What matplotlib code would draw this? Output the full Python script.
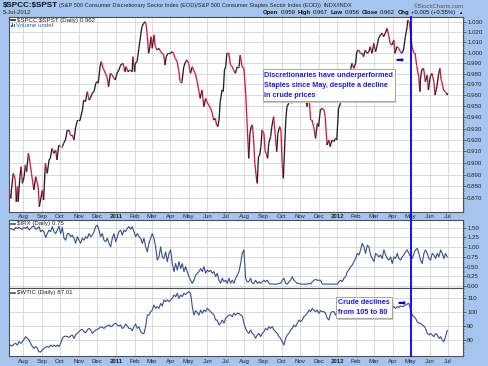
import numpy as np
import pandas as pd
import matplotlib
matplotlib.use("Agg")
import matplotlib.pyplot as plt
import matplotlib.dates as mdates
import matplotlib.transforms as mtransforms
from matplotlib.collections import LineCollection
from matplotlib.patches import Rectangle
from matplotlib.lines import Line2D
from matplotlib.ticker import FixedLocator, FormatStrFormatter, NullFormatter

plt.rcParams['font.family'] = ['Liberation Sans', 'DejaVu Sans']

# ---------------- data ----------------
series_origin = '2010-07-01'   # ratio_day counts days from this date
ratio_day = [
    8, 11, 12, 15, 18, 20, 22, 23, 26, 28,
    30, 33, 35, 37, 40, 42, 45, 49, 52, 56,
    58, 60, 63, 65, 68, 71, 74, 76, 79, 82,
    85, 87, 90, 93, 96, 98, 101, 104, 107, 109,
    112, 115, 118, 121, 125, 129, 131, 134, 137, 140,
    142, 145, 148, 151, 153, 155, 158, 160, 163, 167,
    170, 172, 175, 178, 181, 183, 186, 189, 192, 196,
    199, 201, 204, 207, 211, 212, 215, 216, 219, 222,
    225, 227, 230, 232, 234, 236, 238, 240, 242, 244,
    247, 249, 252, 255, 258, 260, 263, 265, 267, 270,
    274, 277, 279, 282, 285, 288, 290, 293, 296, 299,
    301, 304, 307, 310, 312, 315, 318, 321, 323, 326,
    329, 332, 334, 337, 340, 343, 345, 348, 350, 352,
    354, 356, 359, 361, 363, 365, 367, 370, 373, 376,
    378, 381, 384, 387, 389,
    392, 395, 398, 400, 403, 405, 407, 409, 411, 413,
    416, 417, 419, 421, 423, 425, 428, 430, 432, 434,
    436, 439, 441, 444, 446, 449, 451, 454, 456, 458,
    460, 462, 464, 466, 469, 472, 474, 477, 480, 483,
    485, 488, 491, 494, 496, 499, 502, 505, 507, 510,
    513, 516, 518, 521, 524, 527, 529, 532, 535, 537,
    540, 543, 546, 548, 551, 554, 557, 559, 562, 565,
    568, 570, 573, 576, 579, 581, 584, 587, 590, 592,
    595, 598, 601, 603, 606, 609, 612, 614, 617, 620,
    623, 625, 628, 631, 634, 636, 639, 642, 644, 647,
    650, 653, 655, 658, 661, 664, 665, 668, 670, 672,
    675, 677, 680, 683, 685, 686, 688, 691, 694, 697,
    699, 702, 705, 708, 710, 713, 716, 718, 720, 721,
    724, 727, 730, 731,
]
ratio_val = [
    0.8756, 0.8700, 0.8770, 0.8910, 0.8868, 0.8672, 0.8798, 0.8672, 0.8882, 0.8967,
    0.8826, 0.8882, 0.8982, 0.8925, 0.9082, 0.9025, 0.8910, 0.8770, 0.8882, 0.8798,
    0.8631, 0.8686, 0.8770, 0.8686, 0.8996, 0.8910, 0.9025, 0.9039, 0.9126, 0.9082,
    0.9111, 0.9025, 0.9155, 0.9140, 0.9140, 0.9170, 0.9199, 0.9287, 0.9287, 0.9243,
    0.9243, 0.9199, 0.9317, 0.9376, 0.9376, 0.9466, 0.9557, 0.9542, 0.9634, 0.9557,
    0.9572, 0.9618, 0.9634, 0.9711, 0.9726, 0.9711, 0.9866, 0.9914, 0.9851, 0.9804,
    0.9757, 0.9680, 0.9804, 0.9788, 0.9757, 0.9742, 0.9804, 0.9835, 0.9882, 0.9898,
    0.9819, 0.9866, 0.9819, 0.9835, 0.9819, 0.9961, 0.9819, 0.9898, 0.9914, 1.0041,
    1.0170, 1.0251, 1.0284, 1.0300, 1.0267, 1.0153, 0.9993, 1.0057, 1.0153, 1.0041,
    1.0170, 1.0057, 1.0025, 1.0041, 1.0009, 0.9993, 0.9977, 0.9882, 0.9961, 0.9993,
    0.9993, 1.0009, 0.9993, 0.9945, 0.9914, 0.9819, 0.9726, 0.9726, 0.9866, 0.9914,
    0.9930, 0.9898, 0.9804, 0.9866, 0.9835, 0.9804, 0.9726, 0.9634, 0.9572, 0.9649,
    0.9497, 0.9572, 0.9542, 0.9512, 0.9481, 0.9436, 0.9376, 0.9391, 0.9332, 0.9317,
    0.9376, 0.9542, 0.9649, 0.9634, 0.9835, 0.9866, 0.9993, 0.9993, 0.9882, 0.9866,
    0.9835, 0.9804, 0.9866, 0.9866, 0.9977,
    0.9866, 0.9851, 0.9618, 0.9376, 0.9039, 0.9258, 0.9317, 0.9332, 0.9199, 0.8996,
    0.8854, 0.8826, 0.9053, 0.9068, 0.9140, 0.9287, 0.9258, 0.9097, 0.9082, 0.9039,
    0.9170, 0.9228, 0.9317, 0.9406, 0.9287, 0.9097, 0.9258, 0.9317, 0.9287, 0.8996,
    0.8868, 0.9111, 0.9376, 0.9497, 0.9527, 0.9588, 0.9527, 0.9557, 0.9557, 0.9588,
    0.9588, 0.9557, 0.9588, 0.9634, 0.9588, 0.9497, 0.9618, 0.9376, 0.9376, 0.9317,
    0.9213, 0.9346, 0.9317, 0.9466, 0.9481, 0.9466, 0.9406, 0.9155, 0.9199, 0.9140,
    0.9199, 0.9184, 0.9213, 0.9199, 0.9481, 0.9527, 0.9557, 0.9572, 0.9634, 0.9680,
    0.9773, 0.9819, 0.9898, 0.9851, 0.9898, 1.0009, 1.0025, 0.9993, 0.9993, 0.9961,
    1.0025, 0.9993, 1.0009, 1.0057, 0.9993, 1.0089, 1.0009, 1.0057, 1.0137, 1.0170,
    1.0186, 1.0153, 1.0186, 1.0235, 1.0153, 1.0089, 1.0073, 1.0121, 0.9993, 1.0057,
    1.0041, 1.0009, 0.9993, 1.0025, 1.0153, 1.0251, 1.0316, 1.0284, 1.0153, 1.0057,
    0.9993, 0.9993, 0.9866, 0.9773, 0.9634, 0.9757, 0.9835, 0.9851, 0.9726, 0.9788,
    0.9649, 0.9773, 0.9804, 0.9726, 0.9603, 0.9680, 0.9804, 0.9851, 0.9742, 0.9726,
    0.9649, 0.9634, 0.9603, 0.9618,
]

lower_first, lower_last = '2010-07-09', '2012-06-30'
irx_val = [
    1.46, 1.48, 1.46, 1.44, 1.51, 1.48, 1.51, 1.48, 1.46, 1.51,
    1.48, 1.53, 1.44, 1.48, 1.53, 1.54, 1.46, 1.48, 1.53, 1.40,
    1.44, 1.40, 1.25, 1.35, 1.44, 1.40, 1.53, 1.40, 1.35, 1.44,
    1.54, 1.35, 1.51, 1.23, 1.18, 1.35, 1.35, 1.27, 1.31, 1.23,
    1.10, 1.27, 1.18, 1.10, 1.23, 1.18, 1.27, 1.23, 1.35, 1.27,
    1.31, 1.40, 1.53, 1.57, 1.44, 1.27, 1.35, 1.18, 1.14, 1.23,
    1.10, 1.01, 1.23, 1.35, 1.14, 1.27, 1.40, 1.44, 1.31, 1.44,
    1.40, 1.48, 1.53, 1.46, 1.53, 1.40, 1.27, 1.35, 1.27, 1.23,
    1.10, 1.23, 1.01, 0.88, 1.10, 1.23, 1.35, 1.23, 1.01, 0.67,
    0.75, 1.01, 0.75, 0.71, 0.88, 0.63, 0.84, 0.93, 0.58, 0.37,
    0.58, 0.41, 0.63, 0.45, 0.58, 0.37, 0.50, 0.37, 0.24, 0.15,
    0.07, 0.15, 0.28, 0.33, 0.37, 0.45, 0.37, 0.50, 0.33, 0.41,
    0.37, 0.41, 0.33, 0.37, 0.24, 0.33, 0.15, 0.07, 0.20, 0.11,
    0.15, 0.07, 0.20, 0.07, 0.15, 0.07, 0.20, 0.28, 0.37, 0.58,
    0.84, 0.93, 0.20, 0.11, 0.11, 0.20, 0.07, 0.07, 0.15, 0.07,
    0.11, 0.07, 0.11, 0.15, 0.11, 0.15, 0.07, 0.05, 0.05, 0.05,
    0.05, 0.05, 0.07, 0.07, 0.15, 0.20, 0.07, 0.05, 0.11, 0.15,
    0.24, 0.15, 0.11, 0.07, 0.07, 0.05, 0.05, 0.05, 0.05, 0.05,
    0.07, 0.05, 0.11, 0.15, 0.17, 0.15, 0.15, 0.15, 0.05, 0.05,
    0.05, 0.05, 0.05, 0.05, 0.05, 0.05, 0.05, 0.05, 0.11, 0.15,
    0.11, 0.20, 0.24, 0.37, 0.41, 0.50, 0.54, 0.63, 0.71, 0.84,
    0.80, 0.93, 1.10, 1.01, 0.84, 1.05, 1.01, 0.80, 0.71, 0.63,
    0.84, 0.80, 0.75, 0.80, 0.71, 0.93, 0.80, 0.71, 0.67, 0.75,
    0.58, 0.75, 0.71, 0.84, 0.71, 0.67, 0.75, 0.80, 0.88, 0.93,
    0.84, 0.75, 0.71, 0.84, 0.93, 0.97, 0.84, 0.67, 0.58, 0.84,
    0.93, 0.84, 0.71, 0.67, 0.84, 0.80, 0.71, 0.84, 0.75, 0.93,
    0.84, 0.71, 0.84, 0.75,
]
wtic_val = [
    75.6, 76.7, 76.0, 77.4, 77.9, 76.7, 79.1, 77.9, 79.1, 80.7,
    82.6, 81.4, 80.2, 77.9, 75.6, 74.4, 75.6, 74.4, 72.0, 71.8,
    73.2, 74.4, 75.1, 75.6, 75.1, 76.7, 75.6, 76.7, 75.6, 76.7,
    75.6, 77.9, 81.4, 82.6, 83.0, 82.6, 82.1, 83.0, 83.8, 81.4,
    83.8, 84.9, 86.1, 87.3, 87.7, 86.1, 85.4, 87.3, 88.4, 87.3,
    84.9, 86.1, 87.3, 87.7, 88.4, 89.6, 89.1, 88.4, 89.6, 90.1,
    90.8, 89.6, 90.1, 91.5, 92.0, 90.8, 90.1, 90.8, 88.4, 89.1,
    91.5, 90.1, 88.4, 88.4, 86.8, 89.6, 91.5, 88.4, 89.6, 86.1,
    84.9, 84.9, 89.6, 97.8, 97.8, 100.2, 101.3, 104.8, 102.5, 103.7,
    102.5, 106.0, 104.1, 108.4, 107.2, 108.4, 107.2, 108.4, 109.5, 111.9,
    110.7, 113.0, 109.5, 111.9, 110.7, 113.0, 112.3, 113.5, 114.2, 113.0,
    103.7, 97.8, 100.9, 99.5, 97.8, 101.3, 99.0, 101.3, 100.2, 102.5,
    101.3, 100.2, 99.0, 97.8, 94.3, 94.3, 90.8, 92.0, 94.3, 92.0,
    95.5, 96.6, 97.8, 97.8, 96.6, 99.0, 97.8, 99.0, 99.0, 97.8,
    97.1, 92.0, 88.4, 86.1, 84.9, 87.3, 84.9, 83.8, 81.4, 83.8,
    84.9, 82.6, 84.9, 86.1, 88.4, 87.3, 89.6, 88.4, 89.6, 87.3,
    86.1, 84.9, 82.6, 81.4, 79.1, 76.7, 81.4, 83.8, 84.9, 87.3,
    88.4, 90.8, 89.6, 92.0, 94.3, 93.1, 94.3, 96.6, 97.8, 99.0,
    101.3, 100.2, 102.5, 101.3, 100.2, 101.3, 99.0, 100.9, 100.2, 100.2,
    99.0, 95.5, 94.3, 99.0, 100.2, 100.2, 97.8, 99.0, 100.2, 101.3,
    102.5, 103.7, 102.5, 101.3, 103.7, 102.5, 103.7, 104.1, 103.7, 104.8,
    104.1, 103.7, 102.5, 104.8, 103.7, 104.1, 106.0, 105.5, 104.1, 106.0,
    107.2, 108.4, 107.2, 106.0, 108.4, 107.2, 106.0, 107.2, 108.4, 104.8,
    102.5, 103.7, 102.5, 103.7, 103.2, 104.1, 103.7, 104.1, 104.8, 105.5,
    106.0, 101.3, 97.8, 96.6, 95.5, 93.1, 92.0, 92.0, 90.8, 90.1,
    88.4, 84.9, 83.8, 84.9, 83.8, 82.6, 84.9, 83.8, 81.4, 82.6,
    80.2, 79.1, 82.6, 87.0,
]

ratio_ticks = [0.870, 0.880, 0.890, 0.900, 0.910, 0.920, 0.930, 0.940, 0.950,
               0.960, 0.970, 0.980, 0.990, 1.000, 1.010, 1.020, 1.030]
irx_ticks = [0.00, 0.25, 0.50, 0.75, 1.00, 1.25, 1.50]
wtic_ticks = [80, 90, 100, 110]
month_starts = pd.date_range('2010-08-01', '2012-07-01', freq='MS')
x_range = ('2010-07-09', '2012-07-26')
marker_date = '2012-05-01'

title_sym = r'\$SPCC:\$SPST'
title_desc = ('(S&P 500 Consumer Discretionary Sector Index (EOD)/S&P 500 '
              'Consumer Staples Sector Index (EOD))')
title_exch = 'INDX/INDX'
date_str = '5-Jul-2012'
quote_runs = [('Open', True), ('0.959', False), ('High', True), ('0.967', False),
              ('Low', True), ('0.956', False), ('Close', True), ('0.962', False),
              ('Chg', True), ('+0.005 (+0.55%)', False), ('\u25b2', False)]
leg1 = r'\$SPCC:\$SPST (Daily) 0.962'
leg2 = r'\$IRX (Daily) 0.75'
leg3 = r'\$WTIC (Daily) 87.01'
note1 = ['Discretionaries have underperformed',
         'Staples since May, despite a decline',
         'in crude prices']
note2 = ['Crude declines', 'from 105 to 80']

# ---------------- styling ----------------
W, H = 489, 366
BG = '#a5c5ee'
RED = '#d8173e'
DARK = '#222222'
LBLUE = '#34508f'
GRID = '#d6d6d6'
ANN = '#1a1aee'
FS = 4.4

fig = plt.figure(figsize=(W / 100, H / 100), dpi=100, facecolor=BG)


def fx(x):
    return x / W


def fy(y):
    return 1 - y / H


L, R = 9, 463
ax1 = fig.add_axes([fx(L), fy(212), fx(R) - fx(L), fy(17) - fy(212)])
ax2 = fig.add_axes([fx(L), fy(288), fx(R) - fx(L), fy(220) - fy(288)])
ax3 = fig.add_axes([fx(L), fy(356), fx(R) - fx(L), fy(288) - fy(356)])

xlo, xhi = mdates.date2num(pd.to_datetime(list(x_range)).to_pydatetime())
mnum = mdates.date2num(month_starts.to_pydatetime())
mlabels = [d.strftime('%Y') if d.month == 1 else d.strftime('%b') for d in month_starts]


def setup(ax, ylim, ticks, fmt, show_x, pad_x):
    ax.set_facecolor('white')
    ax.set_xlim(xlo, xhi)
    ax.set_ylim(*ylim)
    ax.yaxis.tick_right()
    ax.yaxis.set_major_locator(FixedLocator(ticks))
    ax.yaxis.set_major_formatter(FormatStrFormatter(fmt))
    ax.yaxis.set_minor_formatter(NullFormatter())
    ax.tick_params(axis='y', which='major', length=2, width=0.5, labelsize=FS,
                   pad=1, colors='#333333', labelcolor='#222222')
    ax.tick_params(axis='y', which='minor', length=1, width=0.4, colors='#333333')
    ax.set_xticks(mnum)
    if show_x:
        ax.set_xticklabels(mlabels)
        for t in ax.get_xticklabels():
            if t.get_text().startswith('20'):
                t.set_fontweight('bold')
    else:
        ax.set_xticklabels([])
    ax.tick_params(axis='x', length=0, labelsize=FS, pad=pad_x, labelcolor='#222222')
    ax.grid(True, which='major', color=GRID, lw=0.6)
    ax.set_axisbelow(True)
    for s in ax.spines.values():
        s.set_color('#505050')
        s.set_linewidth(0.8)


# top panel (log scale)
ax1.set_yscale('log')
setup(ax1, (0.8587, 1.0346), ratio_ticks, '%.3f', True, 1.2)
ax1.yaxis.set_minor_locator(FixedLocator(np.arange(0.860, 1.034, 0.002)))

rdates = pd.Timestamp(series_origin) + pd.to_timedelta(ratio_day, unit='D')
rx = mdates.date2num(rdates.to_pydatetime())
ry = np.array(ratio_val)
pts = np.column_stack([rx, ry])
segs = np.stack([pts[:-1], pts[1:]], axis=1)
cols = [DARK if b >= a else RED for a, b in zip(ry[:-1], ry[1:])]
ax1.add_collection(LineCollection(segs, colors=cols, linewidths=0.95, zorder=3))

# middle panel
setup(ax2, (-0.05, 1.70), irx_ticks, '%.2f', False, 1)
ax2.yaxis.set_minor_locator(FixedLocator(np.arange(0.0, 1.70, 0.05)))
ix = mdates.date2num(pd.date_range(lower_first, lower_last, periods=len(irx_val)).to_pydatetime())
ax2.plot(ix, irx_val, color=LBLUE, lw=0.8, zorder=3)

# bottom panel
setup(ax3, (69, 116.8), wtic_ticks, '%d', True, 2.2)
ax3.yaxis.set_minor_locator(FixedLocator(np.arange(70, 117, 2)))
wx = mdates.date2num(pd.date_range(lower_first, lower_last, periods=len(wtic_val)).to_pydatetime())
ax3.plot(wx, wtic_val, color=LBLUE, lw=0.8, zorder=3)

# vertical marker line across all panels
vnum = mdates.date2num(pd.Timestamp(marker_date).to_pydatetime())
btf = mtransforms.blended_transform_factory(ax1.transData, fig.transFigure)
fig.add_artist(Line2D([vnum, vnum], [fy(356), fy(17)], transform=btf,
                      color='#0000ff', lw=1.3, zorder=10))

# ---------------- header ----------------
renderer = fig.canvas.get_renderer()
fig.text(fx(3), fy(5.6), title_sym, fontsize=5.9, fontweight='bold', va='center', color='#111111')
tdesc = fig.text(fx(59), fy(5.8), title_desc, fontsize=4.05, va='center', color='#222222')
dw = tdesc.get_window_extent(renderer).width
fig.text(fx(59 + dw + 2.5), fy(5.8), title_exch, fontsize=4.05, va='center', color='#222222')
fig.text(fx(464), fy(6), '\u00a9StockCharts.com', fontsize=4.3, va='center', ha='right', color='#555555')
fig.text(fx(3), fy(12.8), date_str, fontsize=4.3, va='center', color='#222222')

items = []
for s, b in quote_runs:
    t = fig.text(0, fy(12.8), s, fontsize=4.3 if s != '\u25b2' else 3.2,
                 fontweight='bold' if b else 'normal', va='center', ha='left',
                 color='#111111', family=['Liberation Sans', 'DejaVu Sans'])
    items.append(t)
widths = [t.get_window_extent(renderer).width for t in items]
gap = 2.2
total = sum(widths) + gap * (len(widths) - 1)
x = 462 - total
for t, w in zip(items, widths):
    t.set_x(fx(x))
    x += w + gap

# ---------------- legends ----------------
def legend(y, text, color):
    fig.add_artist(Line2D([fx(11), fx(15.5)], [fy(y), fy(y)], color=color, lw=1.2))
    fig.text(fx(17.5), fy(y), text, fontsize=FS, va='center', color='#222222')


legend(20.3, leg1, DARK)
for i, hgt in enumerate([2.5, 4.0, 3.0]):
    fig.add_artist(Rectangle((fx(11 + i * 1.5), fy(27.2)), 1.0 / W, hgt / H,
                             transform=fig.transFigure, color='#2a5db0', lw=0))
fig.text(fx(16.5), fy(25.6), 'Volume undef', fontsize=FS, va='center', color='#2a5db0')
legend(223.6, leg2, LBLUE)
legend(292.6, leg3, LBLUE)

# ---------------- annotations ----------------
def note(x0, y0, x1, y1, lines, ys):
    fig.add_artist(Rectangle((fx(x0 + 1.5), fy(y1 + 1.5)), (x1 - x0) / W, (y1 - y0) / H,
                             transform=fig.transFigure, fc='#c8c8c8', ec='none', zorder=11))
    fig.add_artist(Rectangle((fx(x0), fy(y1)), (x1 - x0) / W, (y1 - y0) / H,
                             transform=fig.transFigure, fc='white', ec='#999999', lw=0.6, zorder=12))
    for s, yy in zip(lines, ys):
        fig.text(fx(x0 + 2), fy(yy), s, fontsize=5.2, fontweight='bold', color=ANN,
                 va='center', ha='left', zorder=13)


note(262.5, 69, 395, 101, note1, [75.2, 85.6, 95.8])
note(336, 296.5, 391.5, 318, note2, [302.7, 312.8])
fig.text(fx(400), fy(59.3), '\u27a1', fontsize=7, color='#0000ff', ha='center', va='center',
         family=['DejaVu Sans'], zorder=13)
fig.text(fx(402), fy(303), '\u27a1', fontsize=7, color='#0000ff', ha='center', va='center',
         family=['DejaVu Sans'], zorder=13)

fig.savefig('out.png', dpi=100, facecolor=BG)
